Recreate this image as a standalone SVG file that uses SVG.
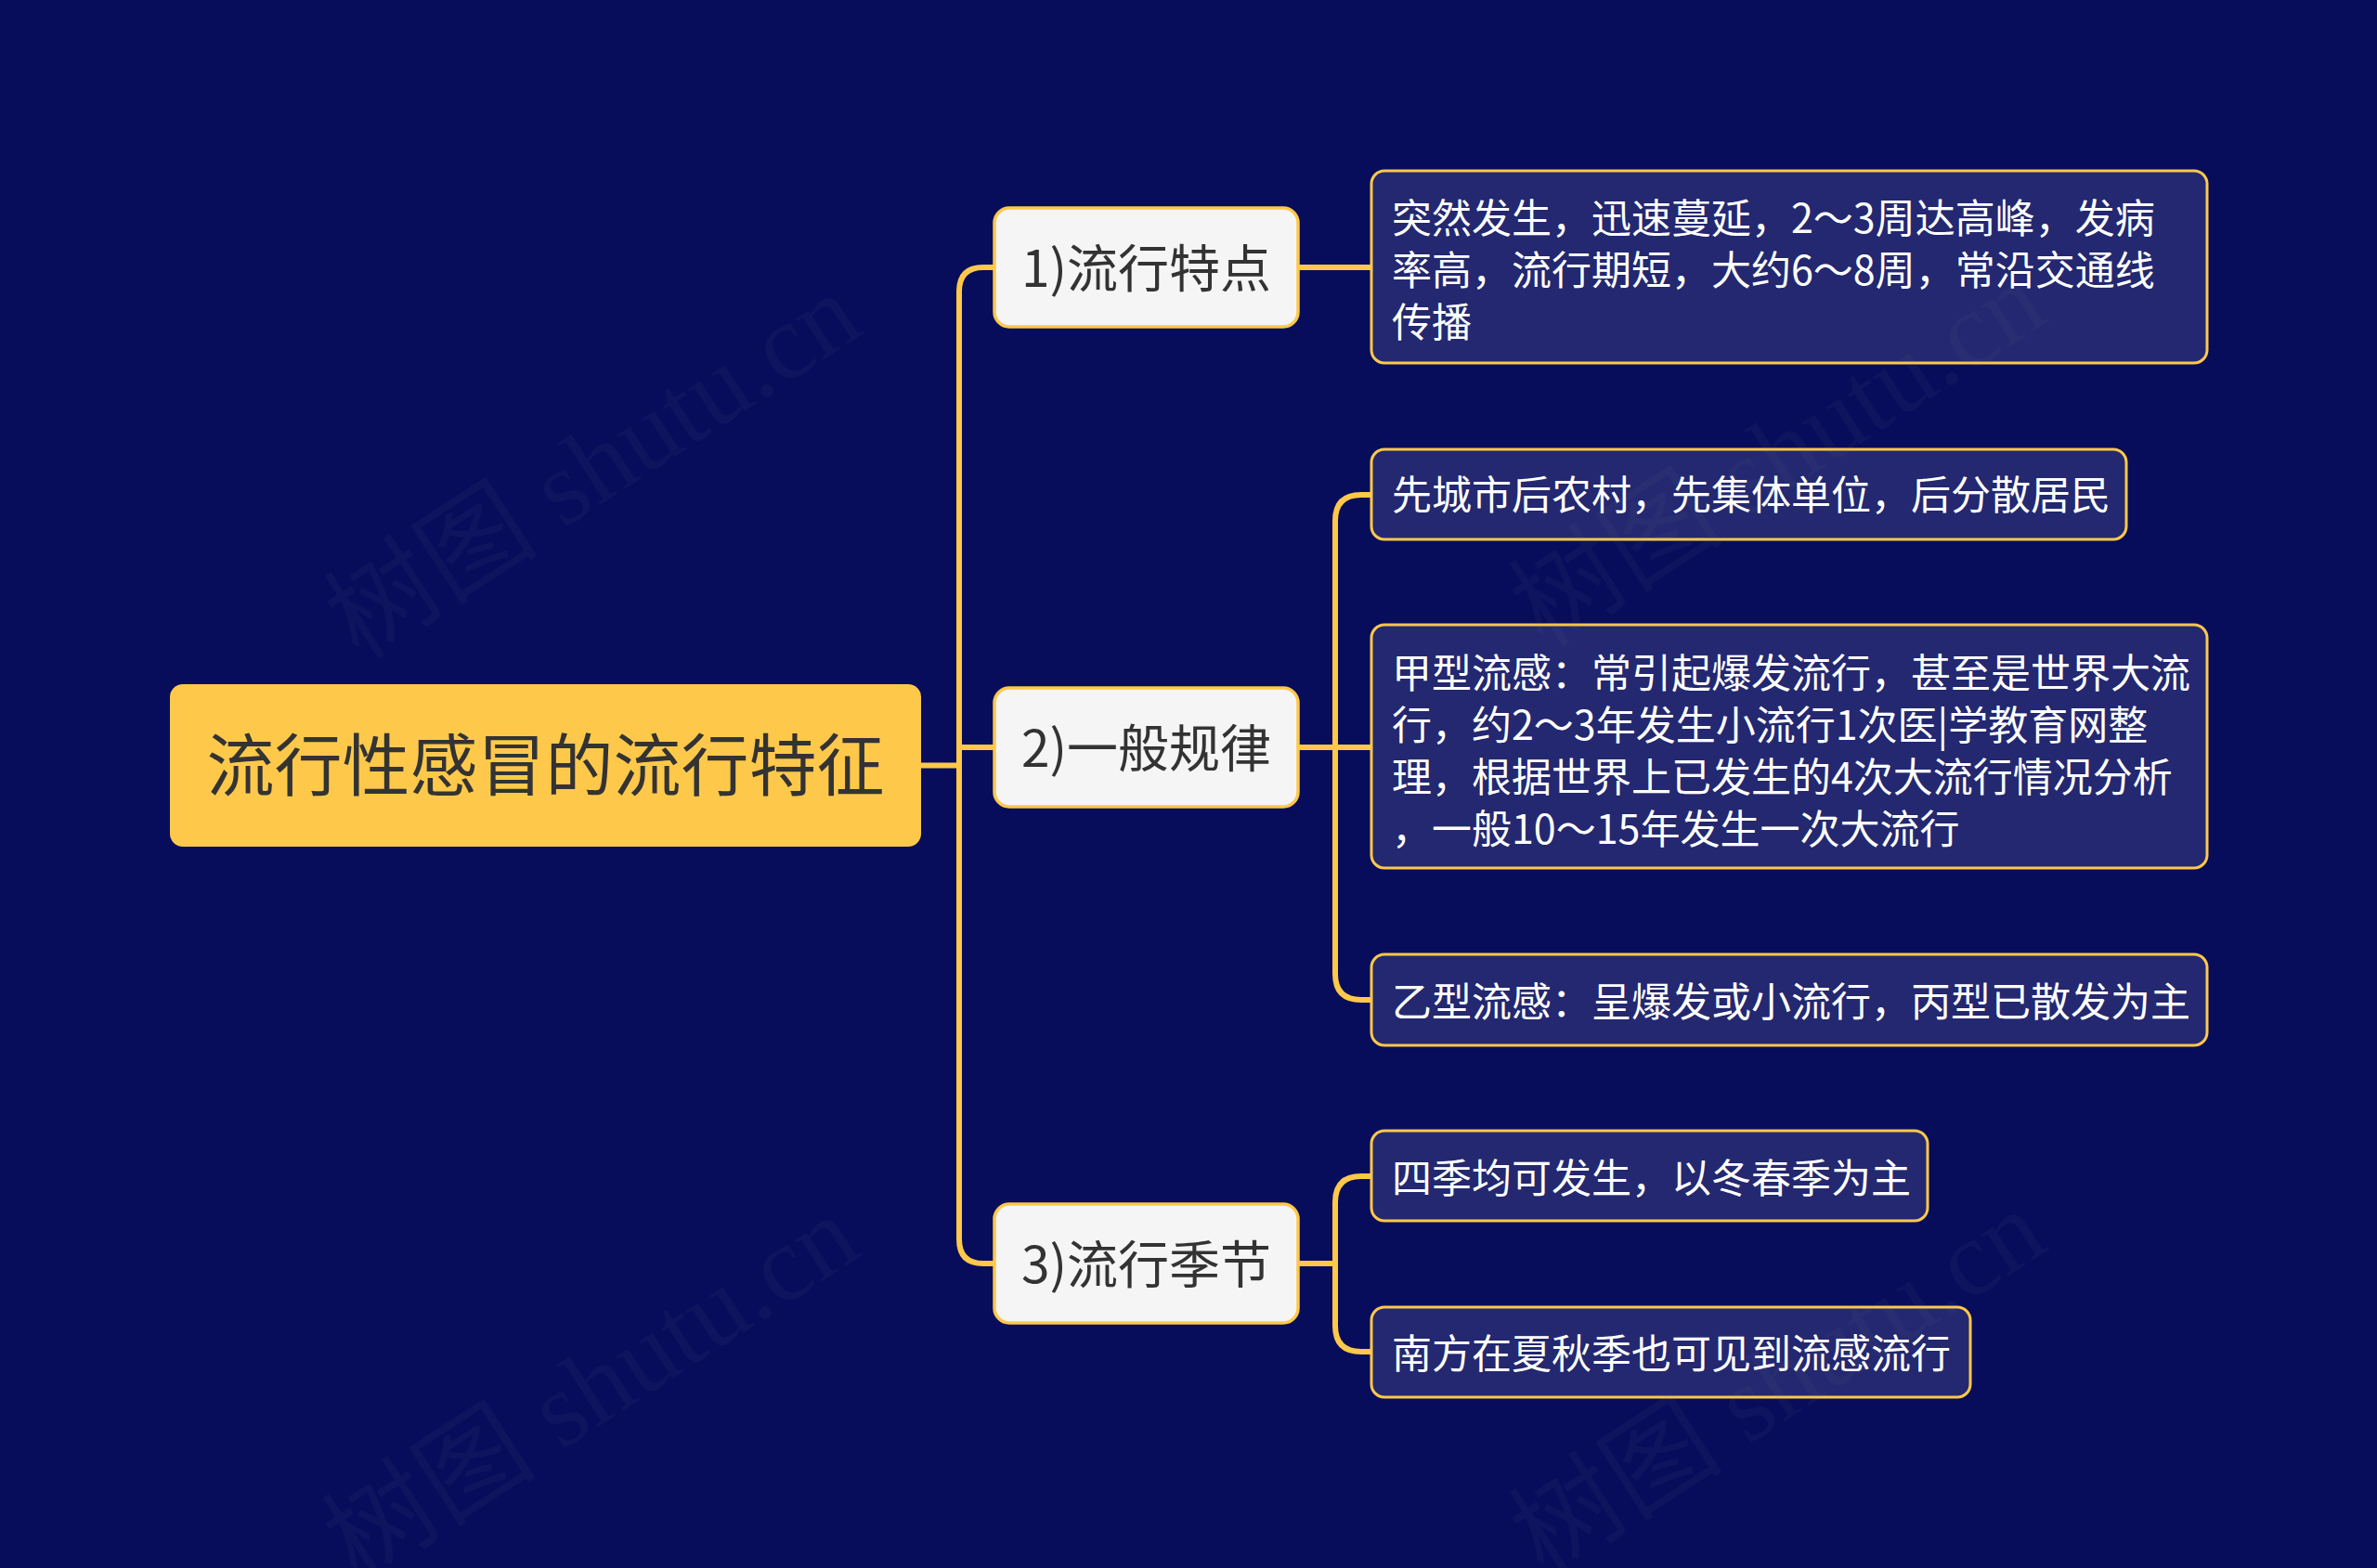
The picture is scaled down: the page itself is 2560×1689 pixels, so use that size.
<svg xmlns="http://www.w3.org/2000/svg" width="2560" height="1689" viewBox="0 0 2560 1689">
<style>
.bg{fill:#070D5B}
.link{fill:none;stroke:#FEC84A;stroke-width:6;stroke-linecap:round;stroke-linejoin:round}
.root{fill:#FEC94B}
.rootText{font-family:"Noto Sans CJK SC","Noto Sans",sans-serif;font-size:73px;fill:#333333}
.l1{fill:#F5F5F5;stroke:#FEC84A;stroke-width:3.5}
.l1Text{font-family:"Noto Sans CJK SC","Noto Sans",sans-serif;font-size:55px;fill:#333333}
.l2{fill:#232870;stroke:#FEC84A;stroke-width:3}
.l2Text{font-family:"Noto Sans CJK SC","Noto Sans",sans-serif;font-size:43px;fill:#FFFFFF}
.wm{font-family:"Liberation Serif","Noto Sans CJK SC",serif;font-size:116px;fill:#8A8A8A;fill-opacity:0.055}
</style>
<rect class="bg" x="0" y="0" width="2560" height="1689"/>

<g id="connectors">
  <path class="link" d="M992 824.5 H1033"/>
  <path class="link" d="M1071 288 H1059 Q1033 288 1033 314 V1335 Q1033 1361 1059 1361 H1071"/>
  <path class="link" d="M1033 805 H1071"/>
  <path class="link" d="M1398 288 H1477"/>
  <path class="link" d="M1398 805 H1477"/>
  <path class="link" d="M1477 533 H1466 Q1438 533 1438 561 V1049 Q1438 1077 1466 1077 H1477"/>
  <path class="link" d="M1398 1361 H1438"/>
  <path class="link" d="M1477 1267 H1466 Q1438 1267 1438 1295 V1428 Q1438 1456 1466 1456 H1477"/>
</g>

<g id="root">
  <rect class="root" x="183" y="737" width="809" height="175" rx="14"/>
  <text class="rootText" x="587.5" y="851" text-anchor="middle">流行性感冒的流行特征</text>
</g>

<g id="n1">
  <rect class="l1" x="1071" y="224" width="327" height="128" rx="16"/>
  <text class="l1Text" x="1234.5" y="309" text-anchor="middle">1)流行特点</text>
</g>
<g id="n2">
  <rect class="l1" x="1071" y="741" width="327" height="128" rx="16"/>
  <text class="l1Text" x="1234.5" y="826" text-anchor="middle">2)一般规律</text>
</g>
<g id="n3">
  <rect class="l1" x="1071" y="1297" width="327" height="128" rx="16"/>
  <text class="l1Text" x="1234.5" y="1382" text-anchor="middle">3)流行季节</text>
</g>

<g id="c1">
  <rect class="l2" x="1477" y="184" width="900" height="207" rx="14"/>
  <text class="l2Text" x="1499" y="251">突然发生，迅速蔓延，2～3周达高峰，发病</text>
  <text class="l2Text" x="1499" y="307">率高，流行期短，大约6～8周，常沿交通线</text>
  <text class="l2Text" x="1499" y="363">传播</text>
</g>
<g id="c2">
  <rect class="l2" x="1477" y="484" width="813" height="97" rx="14"/>
  <text class="l2Text" x="1499" y="549">先城市后农村，先集体单位，后分散居民</text>
</g>
<g id="c3">
  <rect class="l2" x="1477" y="673" width="900" height="262" rx="14"/>
  <text class="l2Text" x="1499" y="741">甲型流感：常引起爆发流行，甚至是世界大流</text>
  <text class="l2Text" x="1499" y="797">行，约2～3年发生小流行1次医|学教育网整</text>
  <text class="l2Text" x="1499" y="853">理，根据世界上已发生的4次大流行情况分析</text>
  <text class="l2Text" x="1499" y="909">，一般10～15年发生一次大流行</text>
</g>
<g id="c4">
  <rect class="l2" x="1477" y="1028" width="900" height="98" rx="14"/>
  <text class="l2Text" x="1499" y="1095">乙型流感：呈爆发或小流行，丙型已散发为主</text>
</g>
<g id="c5">
  <rect class="l2" x="1477" y="1218" width="599" height="97" rx="14"/>
  <text class="l2Text" x="1499" y="1285">四季均可发生，以冬春季为主</text>
</g>
<g id="c6">
  <rect class="l2" x="1477" y="1408" width="645" height="97" rx="14"/>
  <text class="l2Text" x="1499" y="1474">南方在夏秋季也可见到流感流行</text>
</g>

<g id="watermarks">
  <text class="wm" text-anchor="middle" transform="translate(660 535) rotate(-33)">树图 shutu.cn</text>
  <text class="wm" text-anchor="middle" transform="translate(1936 522) rotate(-33)">树图 shutu.cn</text>
  <text class="wm" text-anchor="middle" transform="translate(658 1528) rotate(-33)">树图 shutu.cn</text>
  <text class="wm" text-anchor="middle" transform="translate(1936 1522) rotate(-33)">树图 shutu.cn</text>
</g>
</svg>
